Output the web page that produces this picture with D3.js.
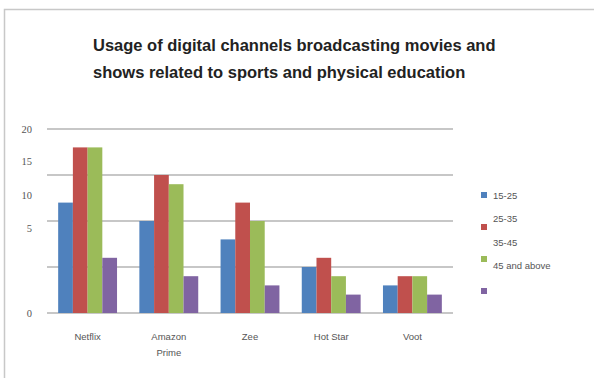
<!DOCTYPE html>
<html>
<head>
<meta charset="utf-8">
<script src="https://cdn.jsdelivr.net/npm/d3@7"></script>
<style>
  body { margin: 0; background: #fff; }
  svg { display: block; }
</style>
</head>
<body>
<svg id="chart"></svg>
<script>
// chart data
const channels = ["Netflix", "Amazon Prime", "Zee", "Hot Star", "Voot"];
const ageGroups = ["15-25", "25-35", "35-45", "45 and above"];
const age15to25 = [12, 10, 8, 5, 3];
const age25to35 = [18, 15, 12, 6, 4];
const age35to45 = [18, 14, 10, 4, 4];
const age45plus = [6, 4, 3, 2, 2];
const gridValues = [0, 5, 10, 15, 20];
// the axis labels in the picture sit off the gridlines, at these values
const tickLabelPos = [20, 16.5, 12.8, 9.2, 0];
const tickLabels = ["20", "15", "10", "5", "0"];
const titleLines = [
  "Usage of digital channels broadcasting movies and",
  "shows related to sports and physical education"
];

const seriesValues = [age15to25, age25to35, age35to45, age45plus];
const colors = ["#4F81BD", "#C0504D", "#9BBB59", "#8064A2"];

let width = 594,
  height = 378,
  margin = { top: 129, right: 141, bottom: 65, left: 47 },
  plotW = width - margin.left - margin.right,
  plotH = height - margin.top - margin.bottom;

const svg = d3.select("#chart").attr("width", width).attr("height", height);

// outer frame (only top and left edges show in the picture)
svg.append("path")
  .attr("d", "M4.5," + height + "V9.5H" + width)
  .attr("fill", "none")
  .attr("stroke", "#c8c8c8")
  .attr("stroke-width", 1.5);

// title
svg.append("g")
  .selectAll("text")
  .data(titleLines)
  .join("text")
  .attr("x", 93)
  .attr("y", (d, i) => 51 + i * 27)
  .attr("font-family", "Liberation Sans, Arial, sans-serif")
  .attr("font-weight", "bold")
  .attr("font-size", 16.5)
  .attr("fill", "#222")
  .text(d => d);

const g = svg.append("g")
  .attr("transform", "translate(" + margin.left + "," + margin.top + ")");

const x0 = d3.scaleBand()
  .domain(channels)
  .range([0, plotW])
  .paddingInner(0.275)
  .paddingOuter(0.1375);

const x1 = d3.scaleBand()
  .domain(d3.range(ageGroups.length))
  .range([0, x0.bandwidth()]);

const y = d3.scaleLinear().domain([0, 20]).range([plotH, 0]);

// gridlines
g.append("g")
  .selectAll("line")
  .data(gridValues)
  .join("line")
  .attr("x1", 0)
  .attr("x2", plotW)
  .attr("y1", d => y(d))
  .attr("y2", d => y(d))
  .attr("stroke", "#b4b4b4")
  .attr("stroke-width", 1.5);

// y labels
const yAxis = d3.axisLeft(y)
  .tickValues(tickLabelPos)
  .tickFormat((d, i) => tickLabels[i])
  .tickSize(0)
  .tickPadding(15);

g.append("g")
  .call(yAxis)
  .call(a => a.select(".domain").remove())
  .call(a => a.selectAll("text")
    .attr("font-family", "Liberation Serif, serif")
    .attr("font-size", 10.5)
    .attr("fill", "#555"));

// bars
const groups = g.append("g")
  .selectAll("g")
  .data(channels)
  .join("g")
  .attr("transform", d => "translate(" + x0(d) + ",0)");

groups.selectAll("rect")
  .data((d, ci) => seriesValues.map((s, si) => ({ si: si, v: s[ci] })))
  .join("rect")
  .attr("x", d => x1(d.si))
  .attr("width", x1.bandwidth())
  .attr("y", d => y(d.v))
  .attr("height", d => y(0) - y(d.v))
  .attr("fill", d => colors[d.si]);

// category labels (wrapped like the original)
const xLabels = g.append("g")
  .selectAll("text")
  .data(channels)
  .join("text")
  .attr("x", d => x0(d) + x0.bandwidth() / 2)
  .attr("y", plotH + 27)
  .attr("text-anchor", "middle")
  .attr("font-family", "Liberation Sans, Arial, sans-serif")
  .attr("font-size", 9.5)
  .attr("fill", "#555");

xLabels.each(function(d) {
  let words = d === "Amazon Prime" ? ["Amazon", "Prime"] : [d];
  d3.select(this).selectAll("tspan")
    .data(words)
    .join("tspan")
    .attr("x", x0(d) + x0.bandwidth() / 2)
    .attr("dy", (w, i) => (i === 0 ? 0 : 16))
    .text(w => w);
});

// legend: swatches and texts do not line up in the picture
const legend = svg.append("g").attr("transform", "translate(481,195)");

legend.selectAll("rect")
  .data(colors)
  .join("rect")
  .attr("x", 0)
  .attr("y", (d, i) => i * 32 - 3)
  .attr("width", 6)
  .attr("height", 6)
  .attr("fill", d => d);

legend.selectAll("text")
  .data(ageGroups)
  .join("text")
  .attr("x", 12)
  .attr("y", (d, i) => i * 23.5 + 3.5)
  .attr("font-family", "Liberation Sans, Arial, sans-serif")
  .attr("font-size", 9.5)
  .attr("fill", "#555")
  .text(d => d);
</script>
</body>
</html>
